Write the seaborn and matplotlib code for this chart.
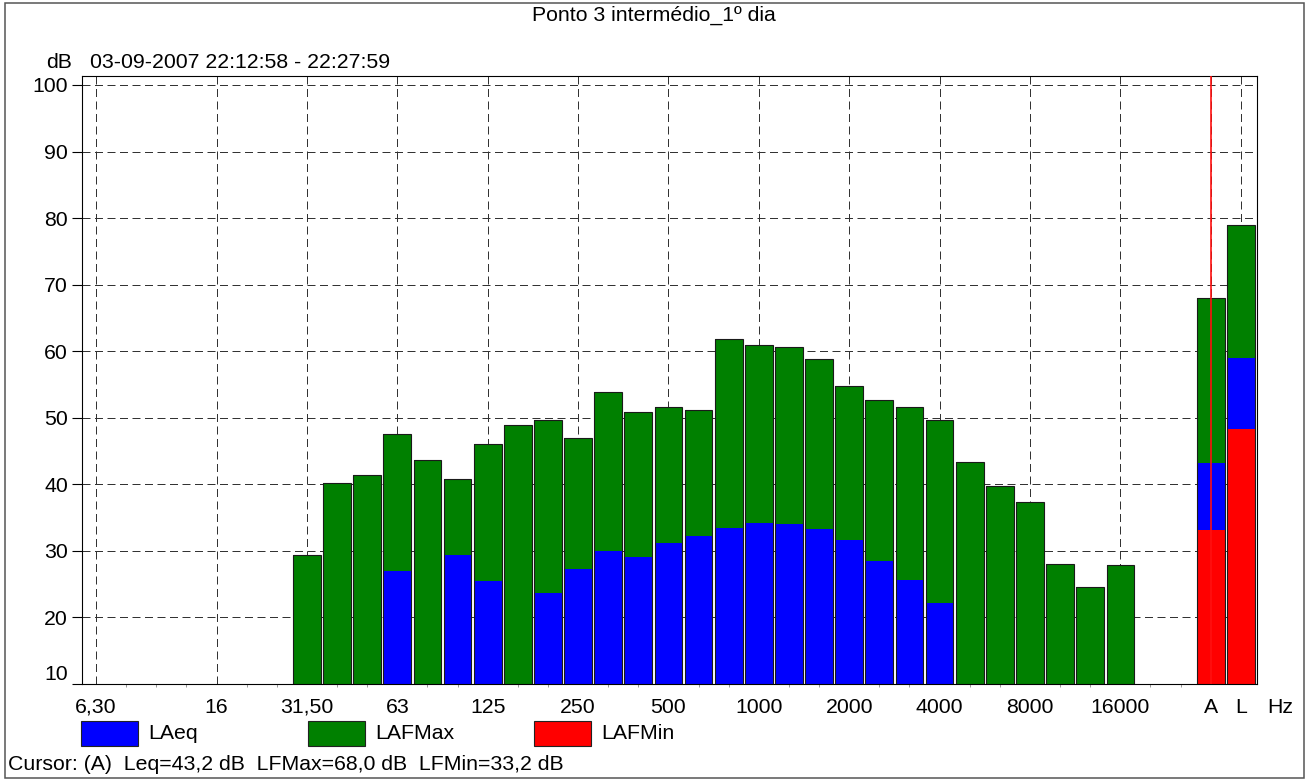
import numpy as np
import pandas as pd
import seaborn as sns
import matplotlib.pyplot as plt
from matplotlib.patches import Rectangle

nan = np.nan

# 1/3 octave bands (labels as printed by the sound level meter)
bands = ['6,30', '8', '10', '12,5', '16', '20', '25', '31,50', '40', '50', '63', '80',
         '100', '125', '160', '200', '250', '315', '400', '500', '630', '800', '1000',
         '1250', '1600', '2000', '2500', '3150', '4000', '5000', '6300', '8000',
         '10000', '12500', '16000', '20000']
band_laeq = [nan, nan, nan, nan, nan, nan, nan,
             nan, nan, nan, 27.0, nan, 29.4, 25.5, nan, 23.7, 27.3,
             30.0, 29.1, 31.2, 32.3, 33.5, 34.2, 34.1, 33.3, 31.7, 28.5, 25.7, 22.2,
             nan, nan, nan, nan, nan, nan, nan]
band_lafmax = [nan, nan, nan, nan, nan, nan, nan,
               29.4, 40.2, 41.4, 47.5, 43.6, 40.8, 46.1, 48.9, 49.7, 46.9,
               53.8, 50.8, 51.6, 51.1, 61.9, 60.9, 60.6, 58.9, 54.7, 52.7, 51.6, 49.7,
               43.4, 39.8, 37.4, 28.1, 24.5, 27.9, nan]
band_lafmin = [nan] * len(bands)

# overall values (A-weighted / linear)
summary_names = ['A', 'L']
summary_laeq = [43.2, 59.0]
summary_lafmax = [68.0, 79.0]
summary_lafmin = [33.2, 48.3]

series_names = ['LAeq', 'LAFMax', 'LAFMin']
series_colors = ['#0000ff', '#008000', '#ff0000']
labelled_bands = ['6,30', '16', '31,50', '63', '125', '250', '500', '1000', '2000',
                  '4000', '8000', '16000']

title = 'Ponto 3 intermédio_1º dia'
period = '03-09-2007 22:12:58 - 22:27:59'

FS = 15.3
plt.rcParams['font.family'] = ['Liberation Sans', 'DejaVu Sans']
plt.rcParams['font.size'] = FS

nb = len(bands)
pos = list(range(nb)) + [nb + 1 + j for j in range(len(summary_names))]
df = pd.DataFrame({
    'pos': pos,
    'LAeq': band_laeq + summary_laeq,
    'LAFMax': band_lafmax + summary_lafmax,
    'LAFMin': band_lafmin + summary_lafmin,
})

W, H = 1311, 782
fig = plt.figure(figsize=(W / 100, H / 100), dpi=100)
ax = fig.add_axes([82 / W, (H - 684) / H, 1175 / W, 608 / H])

# green below, blue on top, red on top, then outline
for name, col in [('LAFMax', series_colors[1]), ('LAeq', series_colors[0]),
                  ('LAFMin', series_colors[2])]:
    sns.barplot(data=df, x='pos', y=name, native_scale=True, width=0.92,
                color=col, saturation=1, linewidth=0, errorbar=None, ax=ax, zorder=2)
sns.barplot(data=df, x='pos', y='LAFMax', native_scale=True, width=0.92,
            color='#1a1a1a', fill=False, saturation=1, linewidth=0.8,
            errorbar=None, ax=ax, zorder=3)

ax.set_xlim(-0.465, nb + 2.535)
ax.set_ylim(10, 101.35)
ax.set_xlabel('')
ax.set_ylabel('')

tick_pos = [bands.index(b) for b in labelled_bands] + pos[nb:]
ax.set_xticks(tick_pos)
ax.set_xticklabels(labelled_bands + summary_names)
ax.set_xticks(range(nb + 3), minor=True)
ax.set_yticks(range(10, 101, 10))
ax.tick_params(axis='x', which='major', length=0, pad=10, labelsize=FS)
ax.tick_params(axis='x', which='minor', length=2.5, color='#888888', direction='out')
ax.tick_params(axis='y', direction='out', length=7, width=0.8, pad=3, labelsize=FS)
ax.get_yticklabels()[0].set_va('bottom')

ax.set_axisbelow(True)
ax.grid(True, which='major', color='#333333', linestyle=(0, (8, 4.5)), linewidth=0.72)
for s in ax.spines.values():
    s.set_linewidth(0.8)
    s.set_color('black')

# cursor on A
ax.axvline(pos[nb], color='#ff1010', lw=1.2, zorder=5)

ax.annotate('Hz', xy=(nb + 3.3, 0), xycoords=('data', 'axes fraction'),
            xytext=(0, -10), textcoords='offset points', ha='center', va='top',
            annotation_clip=False)

fig.text(654 / W, 1 - 21 / H, title, ha='center', va='baseline')
fig.text(59 / W, 1 - 68 / H, 'dB', ha='center', va='baseline')
fig.text(90 / W, 1 - 68 / H, period, ha='left', va='baseline')

# legend row
for name, col, x0 in zip(series_names, series_colors, [81, 308, 534]):
    fig.patches.append(Rectangle((x0 / W, 1 - 746 / H), 57 / W, 25 / H,
                                 transform=fig.transFigure, facecolor=col,
                                 edgecolor='#222222', lw=0.8))
    fig.text((x0 + 67) / W, 1 - 739 / H, name, ha='left', va='baseline')

cursor = 'Cursor: (A)  Leq={:.1f} dB  LFMax={:.1f} dB  LFMin={:.1f} dB'.format(
    summary_laeq[0], summary_lafmax[0], summary_lafmin[0]).replace('.', ',')
fig.text(8 / W, 1 - 770 / H, cursor, ha='left', va='baseline')

# outer frame
fig.patches.append(Rectangle((5 / W, 4 / H), 1299 / W, 775 / H,
                             transform=fig.transFigure, fill=False,
                             edgecolor='#555555', lw=1.1))

fig.savefig('out.png', dpi=100)
